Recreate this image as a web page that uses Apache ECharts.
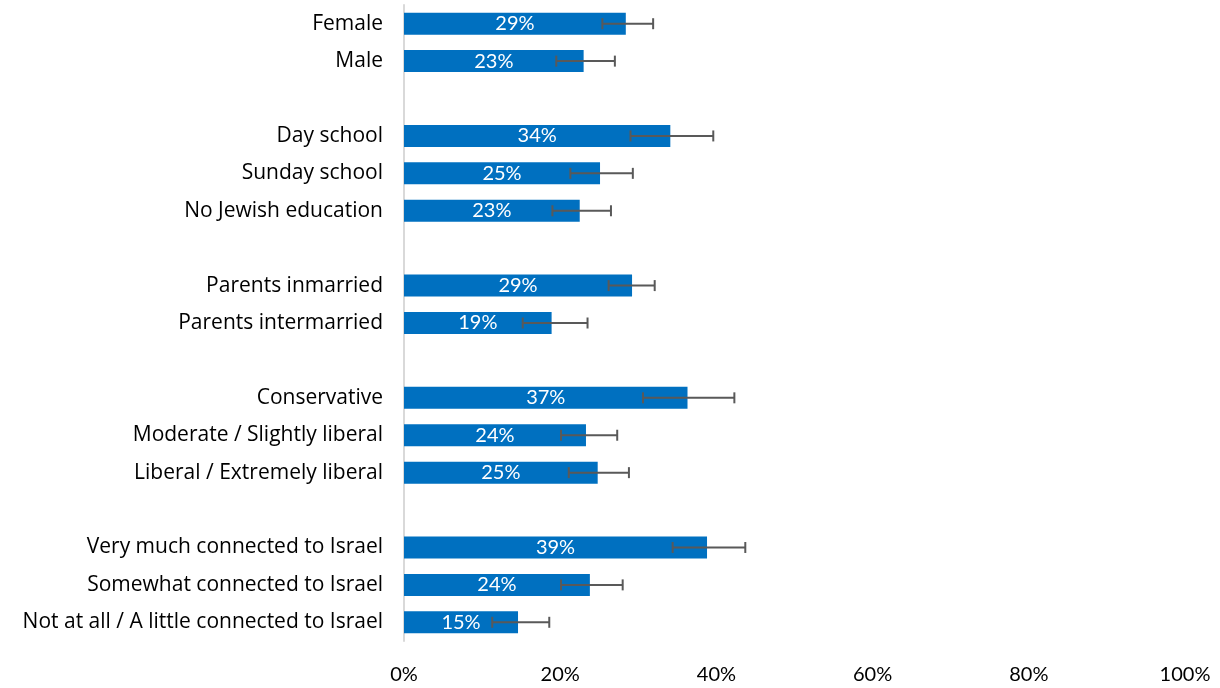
<!DOCTYPE html>
<html>
<head>
<meta charset="utf-8">
<script src="https://cdn.jsdelivr.net/npm/echarts@6/dist/echarts.min.js"></script>
<style>
html,body{margin:0;padding:0;background:#fff;}
#chart{width:1220px;height:688px;}
</style>
</head>
<body>
<div id="chart"></div>
<script>
// Categories (blank entries are the gaps between groups)
const categories = [
  'Female', 'Male', '',
  'Day school', 'Sunday school', 'No Jewish education', '',
  'Parents inmarried', 'Parents intermarried', '',
  'Conservative', 'Moderate / Slightly liberal', 'Liberal / Extremely liberal', '',
  'Very much connected to Israel', 'Somewhat connected to Israel', 'Not at all / A little connected to Israel'
];
// Bar values (percent), null for the gaps
const values = [28.4, 23.0, null, 34.1, 25.1, 22.5, null, 29.2, 18.9, null, 36.3, 23.3, 24.8, null, 38.8, 23.8, 14.6];
// Printed labels
const valueLabels = ['29%', '23%', '', '34%', '25%', '23%', '', '29%', '19%', '', '37%', '24%', '25%', '', '39%', '24%', '15%'];
// Error bar lower / upper bounds (percent)
const errLow  = [25.4, 19.5, null, 29.0, 21.3, 19.0, null, 26.2, 15.2, null, 30.6, 20.1, 21.1, null, 34.4, 20.1, 11.3];
const errHigh = [31.9, 27.0, null, 39.6, 29.3, 26.5, null, 32.1, 23.5, null, 42.3, 27.3, 28.8, null, 43.7, 28.0, 18.6];
// Axis ticks
const xTicks = [0, 20, 40, 60, 80, 100];

const FONT = 'Lato, "Open Sans", sans-serif';
const CAT_FONT = '"Open Sans", Lato, sans-serif';

const errData = [];
categories.forEach((c, i) => {
  if (errLow[i] != null) errData.push([errLow[i], errHigh[i], i]);
});

const chart = echarts.init(document.getElementById('chart'), null, {renderer: 'canvas'});
chart.setOption({
  animation: false,
  grid: {left: 404, right: 35, top: 5, bottom: 47, containLabel: false},
  xAxis: {
    type: 'value',
    min: xTicks[0], max: xTicks[xTicks.length - 1], interval: 20,
    axisLine: {show: false},
    axisTick: {show: false},
    splitLine: {show: false},
    axisLabel: {
      formatter: '{value}%', color: '#000', fontSize: 20, fontFamily: FONT, margin: 24
    }
  },
  yAxis: {
    type: 'category',
    data: categories,
    inverse: true,
    axisLine: {show: true, lineStyle: {color: '#d9d9d9', width: 2}},
    axisTick: {show: false},
    axisLabel: {color: '#000', fontSize: 21, fontFamily: CAT_FONT, margin: 21, interval: 0}
  },
  series: [
    {
      type: 'bar',
      data: values,
      barWidth: 22,
      itemStyle: {color: '#0070C0'},
      label: {
        show: true, position: 'inside', color: '#fff', fontSize: 20, fontFamily: FONT,
        formatter: p => valueLabels[p.dataIndex]
      },
      z: 2
    },
    {
      type: 'custom',
      data: errData,
      z: 5,
      encode: {x: [0, 1], y: 2},
      renderItem: function (params, api) {
        const y = api.value(2);
        const p1 = api.coord([api.value(0), y]);
        const p2 = api.coord([api.value(1), y]);
        const h = 5.5;
        const style = {stroke: '#595959', lineWidth: 2};
        return {
          type: 'group',
          children: [
            {type: 'line', shape: {x1: p1[0], y1: p1[1], x2: p2[0], y2: p2[1]}, style: style},
            {type: 'line', shape: {x1: p1[0], y1: p1[1] - h, x2: p1[0], y2: p1[1] + h}, style: style},
            {type: 'line', shape: {x1: p2[0], y1: p2[1] - h, x2: p2[0], y2: p2[1] + h}, style: style}
          ]
        };
      }
    }
  ]
});
</script>
</body>
</html>
